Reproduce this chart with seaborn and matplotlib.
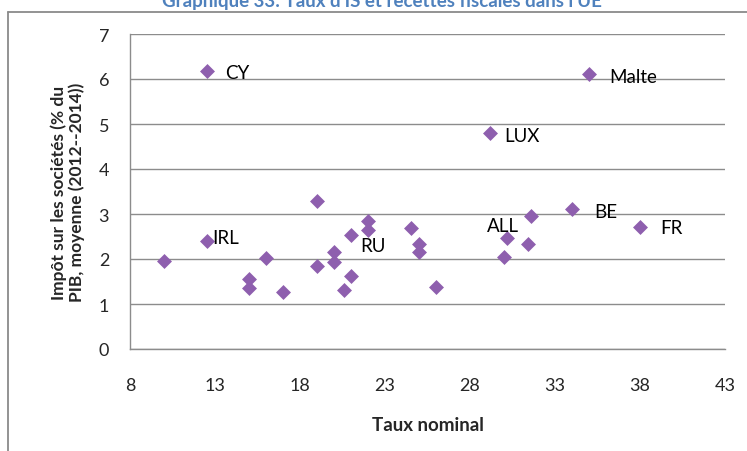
import matplotlib
matplotlib.use("Agg")
import matplotlib.pyplot as plt
from matplotlib.lines import Line2D
import seaborn as sns
import pandas as pd

# Taux nominal d'IS (%) et recettes d'IS (% du PIB, moyenne 2012-2014), UE-28
taux_nominal = [12.5, 12.5, 10, 15, 15, 16, 17, 19, 19, 20, 20, 21, 21, 20.6,
                22, 22, 24.5, 25, 25, 26, 35, 29.2, 31.6, 34, 38, 30.2, 31.4, 30]
recettes_is = [6.18, 2.39, 1.95, 1.56, 1.36, 2.03, 1.27, 3.30, 1.84, 2.16, 1.94,
               2.53, 1.63, 1.31, 2.85, 2.65, 2.68, 2.33, 2.15, 1.37, 6.11, 4.80,
               2.95, 3.11, 2.72, 2.47, 2.33, 2.05]
etiquettes = ["CY", "IRL", "", "", "", "", "", "", "", "", "", "", "", "",
              "", "RU", "", "", "", "", "Malte", "LUX", "", "BE", "FR", "ALL", "", ""]

x_ticks = [8, 13, 18, 23, 28, 33, 38, 43]
y_ticks = [0, 1, 2, 3, 4, 5, 6, 7]

# décalage des étiquettes par rapport au point (pixels)
decalages = {"CY": (19, -2), "IRL": (6, 4), "RU": (-8, -16), "Malte": (20, -2),
             "LUX": (14, -3), "BE": (22, -2), "FR": (20, -1), "ALL": (-20, 12)}

df = pd.DataFrame({"taux": taux_nominal, "is": recettes_is, "pays": etiquettes})

sns.set_theme(style="white")
plt.rcParams["font.family"] = ["Lato", "DejaVu Sans"]

fig = plt.figure(figsize=(7.47, 4.52), dpi=100)
ax = fig.add_axes([130 / 747, 102 / 452, 595 / 747, 315 / 452])

grid_col = "#8c8c8c"
sns.scatterplot(data=df, x="taux", y="is", ax=ax, marker="D", s=58,
                color="#8e5fae", linewidth=0, zorder=3)

for _, r in df.iterrows():
    if r["pays"]:
        ax.annotate(r["pays"], (r["taux"], r["is"]), xytext=decalages[r["pays"]],
                    textcoords="offset pixels", ha="left", va="center",
                    fontsize=13.5, color="black")

ax.set_xlim(x_ticks[0], x_ticks[-1])
ax.set_ylim(y_ticks[0], y_ticks[-1])
ax.set_xticks(x_ticks)
ax.set_yticks(y_ticks)
ax.set_xticklabels([str(t) for t in x_ticks], fontsize=13)
ax.set_yticklabels([str(t) for t in y_ticks], fontsize=13)
ax.tick_params(axis="x", length=0, pad=20)
ax.tick_params(axis="y", length=0, pad=15)
ax.grid(axis="y", color=grid_col, linewidth=1.0)
ax.set_axisbelow(True)
for side in ["top", "right"]:
    ax.spines[side].set_visible(False)
for side in ["left", "bottom"]:
    ax.spines[side].set_color(grid_col)
    ax.spines[side].set_linewidth(1.0)

ax.set_xlabel("Taux nominal", fontsize=13.5, fontweight="bold", labelpad=17)
ax.set_ylabel("Impôt sur les sociétés (% du\nPIB, moyenne (2012--2014))",
              fontsize=12.5, fontweight="bold", labelpad=10, linespacing=1.1)

# cadre de la zone de graphique
cadre = "#8a8a8a"
y_top = 1 - 12.7 / 452
x_left = 8 / 747
fig.add_artist(Line2D([x_left, 1.0], [y_top, y_top], transform=fig.transFigure,
                      color=cadre, linewidth=1.3))
fig.add_artist(Line2D([x_left, x_left], [0.0, y_top], transform=fig.transFigure,
                      color=cadre, linewidth=1.3))

fig.text(382 / 747, 1 - 7 / 452, "Graphique 33: Taux d'IS et recettes fiscales dans l'UE",
         ha="center", va="baseline", fontsize=13.5, fontweight="bold", color="#4f81bd")

fig.savefig("out.png", dpi=100)
